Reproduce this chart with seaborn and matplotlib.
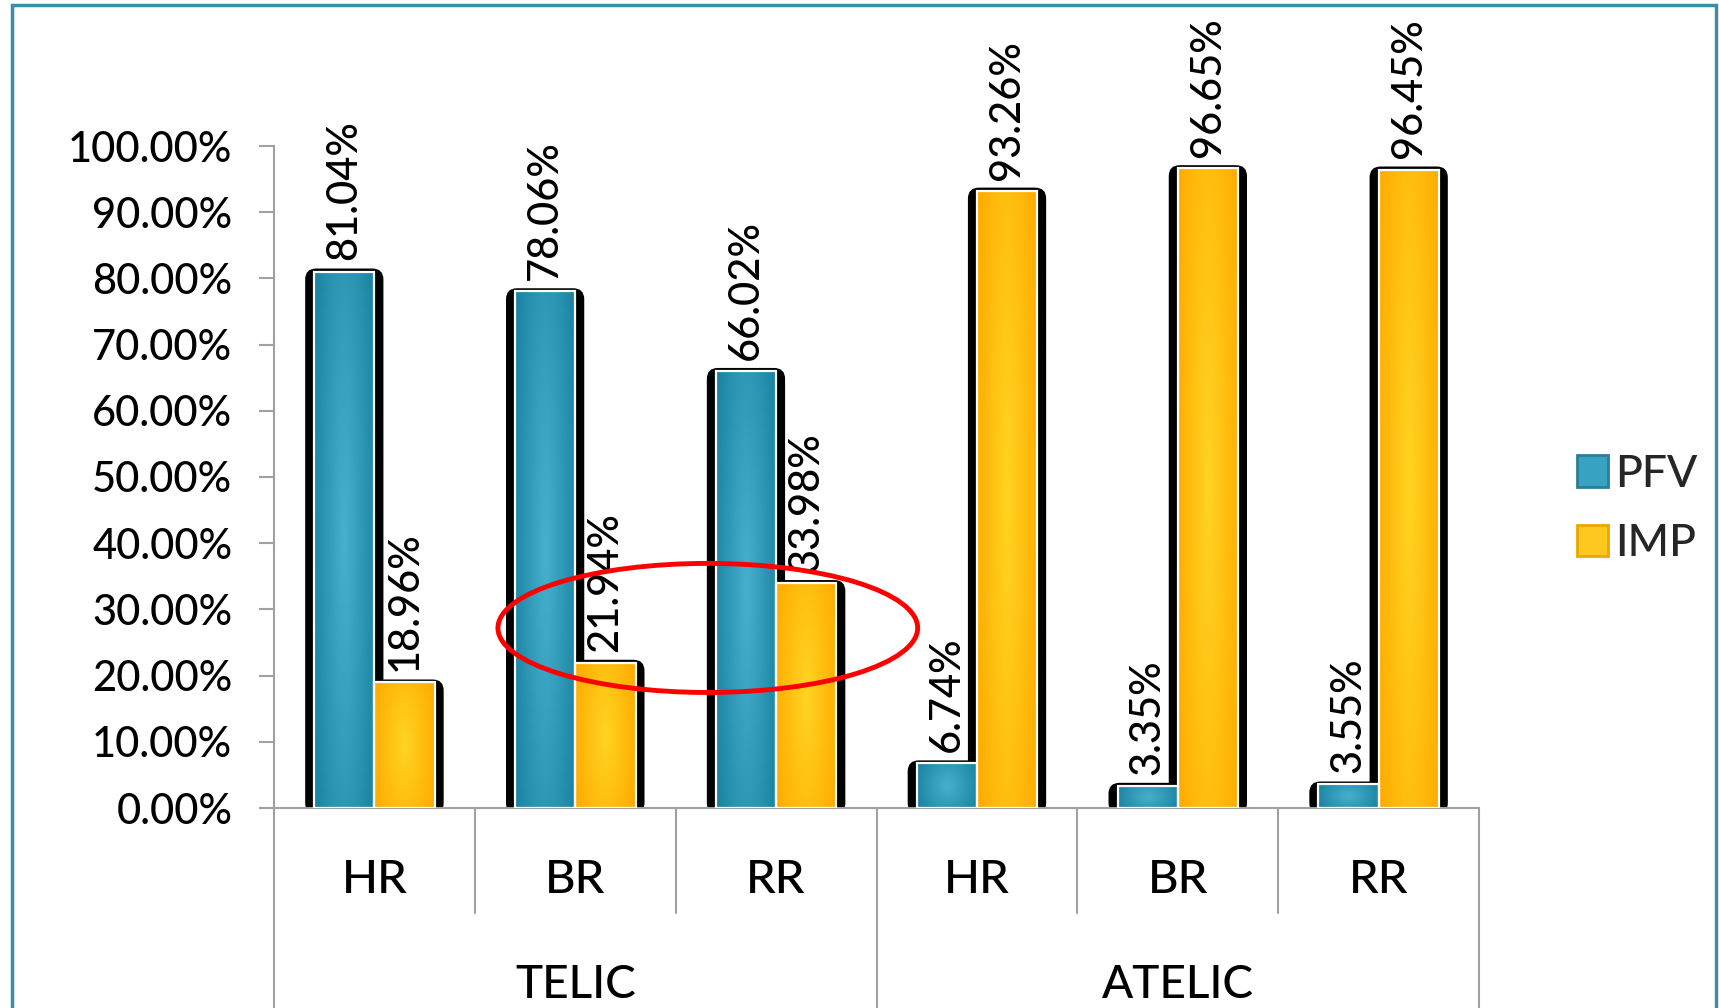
import numpy as np
import pandas as pd
import matplotlib
matplotlib.use("Agg")
import matplotlib.pyplot as plt
import seaborn as sns
from matplotlib.patches import FancyBboxPatch, Ellipse, Rectangle, Patch
import matplotlib.transforms as mtransforms

# ---- data ----
groups = ["TELIC", "TELIC", "TELIC", "ATELIC", "ATELIC", "ATELIC"]
subcats = ["HR", "BR", "RR", "HR", "BR", "RR"]
series = ["PFV", "IMP"]
pfv = [81.04, 78.06, 66.02, 6.74, 3.35, 3.55]
imp = [18.96, 21.94, 33.98, 93.26, 96.65, 96.45]
yticks = [0, 10, 20, 30, 40, 50, 60, 70, 80, 90, 100]

keys = [f"{g}-{s}" for g, s in zip(groups, subcats)]
df = pd.DataFrame({
    "key": keys * 2,
    "aspect": ["PFV"] * len(pfv) + ["IMP"] * len(imp),
    "value": pfv + imp,
})

sns.set_theme(style="white")
plt.rcParams["font.family"] = ["Lato", "DejaVu Sans"]
plt.rcParams["font.weight"] = "medium"

W, H = 1719, 1008
fig = plt.figure(figsize=(W / 100, H / 100), dpi=100)
ax = fig.add_axes([274 / W, 1 - 808 / H, (1479 - 274) / W, (808 - 146) / H])

palette = {"PFV": "#2E9CBD", "IMP": "#FFC000"}
sns.barplot(data=df, x="key", y="value", hue="aspect", order=keys,
            hue_order=series, palette=palette, width=0.6, dodge=True,
            ax=ax, edgecolor="white", linewidth=1.6, legend=False,
            saturation=1, errorbar=None)

grad_cols = {
    "PFV": (np.array([0x47, 0xB0, 0xCE]) / 255, np.array([0x1B, 0x84, 0xA3]) / 255),
    "IMP": (np.array([0xFF, 0xD4, 0x22]) / 255, np.array([0xFF, 0xAC, 0x00]) / 255),
}

# pixel -> data conversions
px_x = 6 / (1479 - 274)        # x units per pixel
px_y = 100 / (808 - 146)       # y units per pixel

n = 64
u = np.linspace(-1, 1, n)
U, V = np.meshgrid(u, u)

for cont, name in zip(ax.containers, series):
    c_in, c_out = grad_cols[name]
    for bar in cont:
        x0 = bar.get_x()
        w = bar.get_width()
        h = bar.get_height()
        # black bevel shadow behind each bar
        r = 11 * px_x
        sh = FancyBboxPatch((x0 - 9 * px_x, -6 * px_y), w + 18 * px_x, h + 9 * px_y,
                            boxstyle=f"round,pad=0,rounding_size={r}",
                            mutation_aspect=px_y / px_x,
                            facecolor="black", edgecolor="none", zorder=1)
        ax.add_patch(sh)
        # radial gradient fill
        t = np.clip(np.sqrt((U * 1.0) ** 2 + (V * 0.6) ** 2) / 1.1, 0, 1)[..., None]
        img = c_in * (1 - t) + c_out * t
        ax.imshow(img, extent=(x0, x0 + w, 0, h), aspect="auto",
                  interpolation="bilinear", zorder=2)
        bar.set_facecolor("none")
        bar.set_zorder(3)

ax.set_xlim(-0.5, len(keys) - 0.5)
ax.set_ylim(0, 100)
ax.set_aspect("auto")

# value labels
for cont, vals in zip(ax.containers, [pfv, imp]):
    ax.bar_label(cont, labels=[f"{v:.2f}%" for v in vals], rotation=90,
                 padding=8, fontsize=30, color="black")

# y axis
ax.set_yticks(yticks)
ax.set_yticklabels([f"{t:.2f}%" for t in yticks], fontsize=30, color="black")
ax.tick_params(axis="y", left=True, length=11, width=1.5, color="#A0A0A0", pad=19)
ax.set_xticks([])
ax.set_xlabel("")
ax.set_ylabel("")
for s in ["top", "right"]:
    ax.spines[s].set_visible(False)
for s in ["left", "bottom"]:
    ax.spines[s].set_color("#A0A0A0")
    ax.spines[s].set_linewidth(1.5)

# category and group labels
trans = mtransforms.blended_transform_factory(ax.transData, ax.transAxes)
for i, s in enumerate(subcats):
    ax.text(i, -(880 - 808) / 662, s, transform=trans, ha="center", va="center",
            fontsize=34, color="black")
uniq = list(dict.fromkeys(groups))
for g in uniq:
    idx = [i for i, gg in enumerate(groups) if gg == g]
    ax.text(np.mean(idx), -(985 - 808) / 662, g, transform=trans, ha="center",
            va="center", fontsize=33, color="black", clip_on=False)

# separators
short = -(913 - 808) / 662
long = -(1010 - 808) / 662
for b in range(len(keys) + 1):
    is_group = b == 0 or b == len(keys) or groups[b] != groups[b - 1]
    ax.plot([b - 0.5, b - 0.5], [0, long if is_group else short], transform=trans,
            color="#A0A0A0", lw=1.5, clip_on=False, zorder=0)

# red ellipse annotation
ax.add_patch(Ellipse((1.66, 27.2), 2.09, 19.5, fill=False, edgecolor="#FF0000",
                     lw=3.5, zorder=6, clip_on=False))

# legend
handles = [Patch(facecolor="#38A2C2", edgecolor="#2A7F98", lw=2, label="PFV"),
           Patch(facecolor="#FFC81E", edgecolor="#EBA600", lw=2, label="IMP")]
fig.legend(handles=handles, loc="center left", bbox_to_anchor=(1555 / W, 1 - 509 / H),
           frameon=False, fontsize=32, handlelength=0.7, handleheight=0.7,
           handletextpad=0.15, labelspacing=0.65, borderpad=0)

# outer frame
fig.patches.append(Rectangle((12 / W, -0.1), (1716 - 12) / W, 1 - 5 / H + 0.1,
                             transform=fig.transFigure, fill=False,
                             edgecolor="#3A8EA8", lw=2.5))

fig.savefig("out.png", dpi=100)
